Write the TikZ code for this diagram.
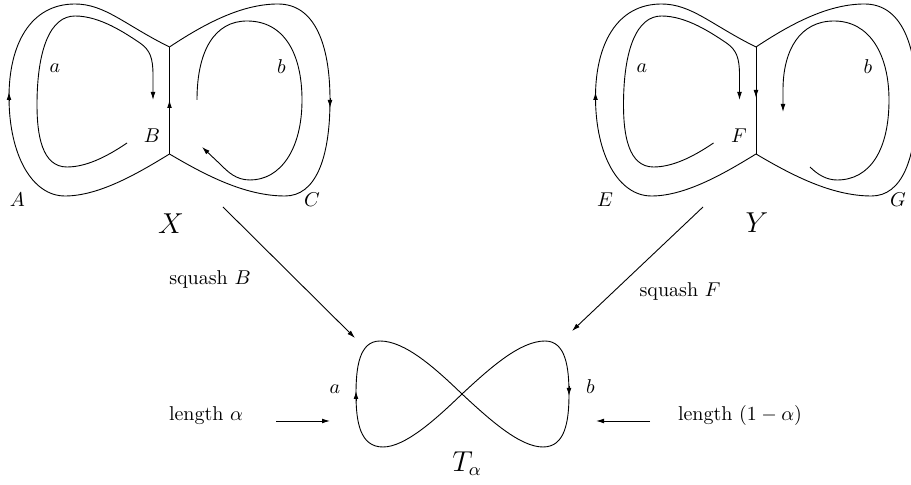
\documentclass[tikz,border=0pt]{standalone}
\usetikzlibrary{arrows.meta}
\begin{document}
\begin{tikzpicture}[x=0.5pt,y=-0.5pt, line width=0.45pt,
  arr/.style={-{Latex[length=4pt,width=2.4pt]}},
  lbl/.style={inner sep=0pt, anchor=center},
  big/.style={lbl, font=\fontsize{13.5}{16}\selectfont}]
\useasboundingbox (0,0) rectangle (911,485);

% ---- the two surfaces X and Y (same outline) ----
\foreach \dx in {0,586.5} {
 \begin{scope}[shift={(\dx,0)}]
  \draw (169.5,47) -- (169.5,154);
  \draw (169.5,47) .. controls (125,25) and (105,4) .. (75,4)
        .. controls (30,4) and (9,45) .. (9,97)
        .. controls (9,155) and (32,196) .. (65,196)
        .. controls (100,196) and (140,172) .. (169.5,154);
  \draw (169.5,47) .. controls (210,20) and (245,4) .. (278,4)
        .. controls (315,4) and (330,45) .. (330,100)
        .. controls (330,160) and (315,196) .. (285,196)
        .. controls (245,196) and (205,175) .. (169.5,154);
  \draw[arr] (127,143) .. controls (105,158) and (85,167) .. (67,167)
        .. controls (42,167) and (37,135) .. (37,105)
        .. controls (37,50) and (50,16) .. (75,16)
        .. controls (100,16) and (125,33) .. (140,43)
        .. controls (150,50) and (153,58) .. (153,75) -- (153,100);
  \draw[arr] (9,101) -- (9,92);
 \end{scope}
}

% X specific
\draw[arr] (330,98) -- (330,108);
\draw[arr] (169.5,111) -- (169.5,100);
\draw[arr] (197,100) .. controls (197,50) and (215,21) .. (247,21)
      .. controls (285,21) and (302,55) .. (302,100)
      .. controls (302,150) and (280,180) .. (250,180)
      .. controls (236,180) and (228,172) .. (220,164) -- (202,147);

% Y specific
\draw[arr] (756,88) -- (756,98);
\draw[arr] (810,167) .. controls (818,175) and (827,180) .. (837,180)
      .. controls (870,180) and (889,150) .. (889,100)
      .. controls (889,55) and (870,21) .. (834,21)
      .. controls (800,21) and (783,50) .. (783,90) -- (783,112);

% labels of X
\node[lbl] (la) at (55,68.5) {$a$};
\node[lbl] (lb) at (281.5,67) {$b$};
\node[lbl] (lB) at (152,136) {$B$};
\node[lbl] (lA) at (17.5,200) {$A$};
\node[lbl] (lC) at (312,200) {$C$};
\node[big] (lX) at (171,224) {$X$};

% labels of Y
\node[lbl] (ya) at (642,68.5) {$a$};
\node[lbl] (yb) at (868,67) {$b$};
\node[lbl] (lF) at (739,136) {$F$};
\node[lbl] (lE) at (605,200) {$E$};
\node[lbl] (lG) at (898,200) {$G$};
\node[big] (lY) at (757,223) {$Y$};

% ---- the figure eight T_alpha ----
\draw (462,394) .. controls (490,368) and (520,341) .. (545,341)
      .. controls (566,341) and (569,368) .. (569,394)
      .. controls (569,422) and (565,447) .. (543,447)
      .. controls (520,447) and (490,420) .. (462,394)
      .. controls (435,368) and (405,341) .. (380,341)
      .. controls (359,341) and (356,368) .. (356,394)
      .. controls (356,422) and (360,447) .. (383,447)
      .. controls (405,447) and (435,420) .. (462,394);
\draw[arr] (356,401) -- (356,391);
\draw[arr] (569,386) -- (569,396);
\node[lbl] (ta) at (335,389) {$a$};
\node[lbl] (tb) at (590.5,387) {$b$};
\node[big] (lT) at (467,464) {$T_\alpha$};

% ---- maps ----
\coordinate (sBs) at (223,207);
\coordinate (sBe) at (355,338);
\coordinate (sFs) at (703,207);
\coordinate (sFe) at (572,331);
\draw[arr] (sBs) -- (sBe);
\draw[arr] (sFs) -- (sFe);
\node[lbl] (sqB) at (210,280) {squash $B$};
\node[lbl] (sqF) at (680,292) {squash $F$};

\node[lbl] (lenA) at (206,416) {length $\alpha$};
\node[lbl] (lenB) at (740,416) {length $(1-\alpha)$};
\coordinate (la1) at (276,421);
\coordinate (la2) at (330,421);
\coordinate (lb1) at (650,421);
\coordinate (lb2) at (596,421);
\draw[arr] (la1) -- (la2);
\draw[arr] (lb1) -- (lb2);
\end{tikzpicture}
\end{document}
